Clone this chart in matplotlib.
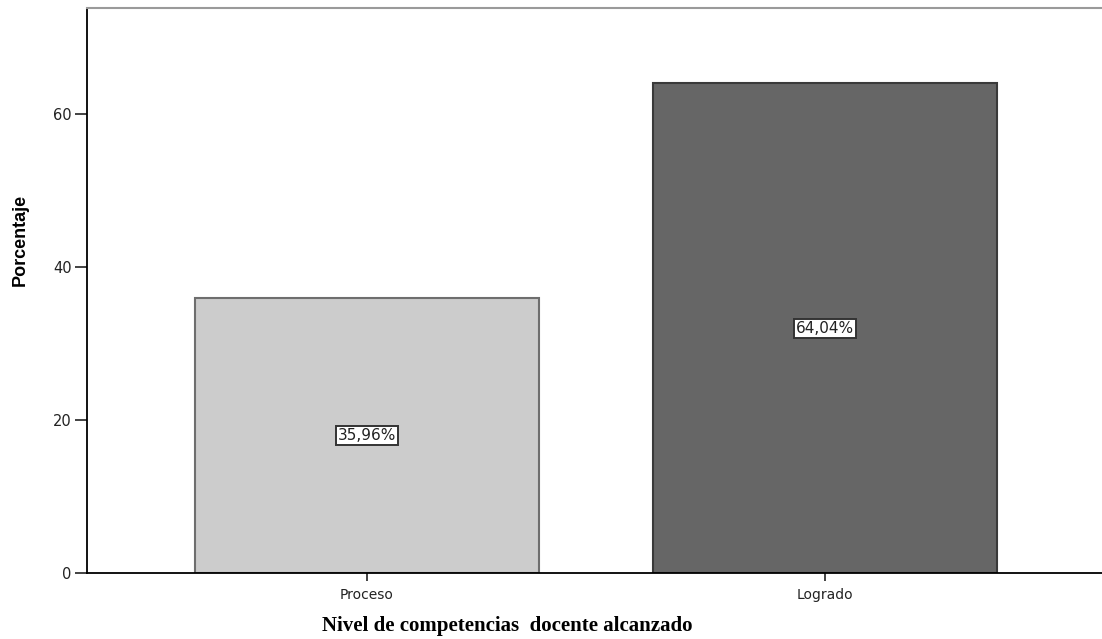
import matplotlib
matplotlib.use('Agg')
import matplotlib.pyplot as plt

# datos
categorias = ['Proceso', 'Logrado']
porcentajes = [35.96, 64.04]
etiquetas = ['35,96%', '64,04%']
colores = ['#cccccc', '#666666']
bordes = ['#6e6e6e', '#3a3a3a']

plt.rcParams['font.family'] = ['DejaVu Sans']

fig = plt.figure(figsize=(11.02, 6.39), dpi=100)
ax = fig.add_axes([0.079, 0.1033, 0.924, 0.884])

x = range(len(categorias))
ax.bar(x, porcentajes, width=0.75, color=colores, edgecolor=bordes, linewidth=1.5)

# etiquetas dentro de las barras
for i, (v, txt) in enumerate(zip(porcentajes, etiquetas)):
    ax.text(i, v / 2, txt, ha='center', va='center', fontsize=11, color='#222222',
            bbox=dict(boxstyle='square,pad=0.12', facecolor='white', edgecolor='#333333', linewidth=1.4))

ax.set_xlim(-0.611, 1.611)
ax.set_ylim(0, 73.9)
ax.set_yticks([0, 20, 40, 60])
ax.set_xticks(list(x))
ax.set_xticklabels(categorias)
ax.tick_params(axis='y', length=9, width=1.2, labelsize=10.5, colors='#222222', pad=2)
ax.tick_params(axis='x', length=6, width=1.2, labelsize=10, colors='#222222', pad=5)

ax.spines['right'].set_visible(False)
ax.spines['top'].set_color('#9a9a9a')
ax.spines['top'].set_linewidth(1.5)
ax.spines['left'].set_linewidth(1.3)
ax.spines['bottom'].set_linewidth(1.3)

ax.set_ylabel('Porcentaje', fontsize=13, fontweight='bold', family='Liberation Sans')
ax.yaxis.set_label_coords(-0.057, 0.589)
ax.set_xlabel('Nivel de competencias  docente alcanzado', fontsize=15, fontweight='bold',
              family='Liberation Serif')
ax.xaxis.set_label_coords(0.4126, -0.076)

plt.savefig('out.png', dpi=100)
